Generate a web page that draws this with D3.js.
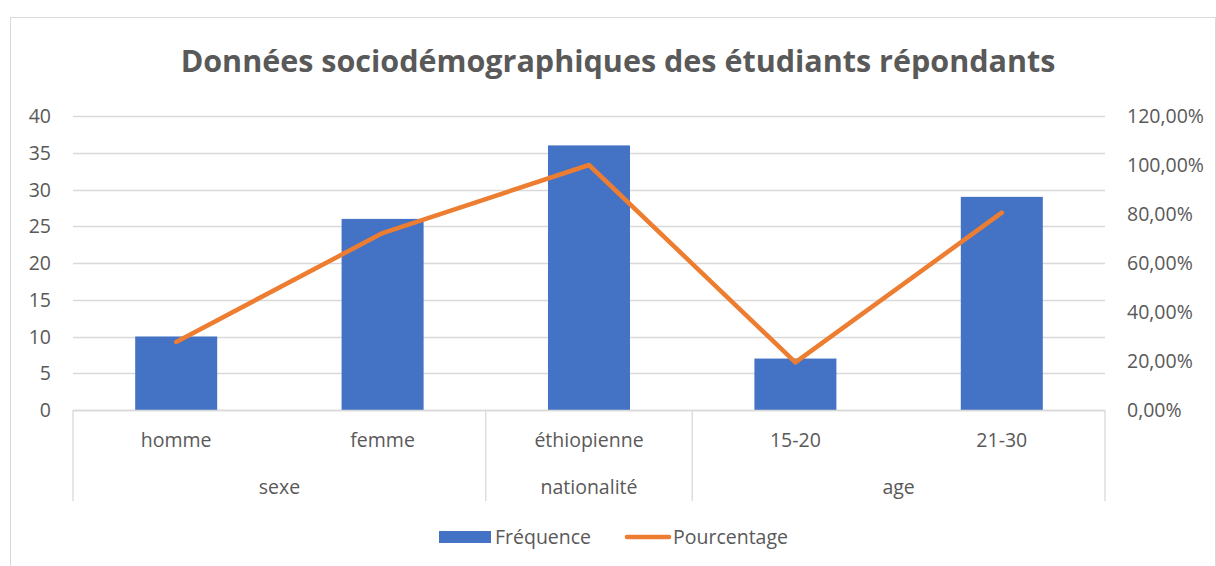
<!DOCTYPE html>
<html>
<head>
<meta charset="utf-8">
<script src="https://cdn.jsdelivr.net/npm/d3@7"></script>
<style>
  body { margin: 0; background: #fff; }
  svg text { font-family: "Open Sans", sans-serif; fill: #595959; }
</style>
</head>
<body>
<svg width="1216" height="566"></svg>
<script>
var categories = ["homme", "femme", "éthiopienne", "15-20", "21-30"];
var groups = [
  { name: "sexe", from: 0, to: 1 },
  { name: "nationalité", from: 2, to: 2 },
  { name: "age", from: 3, to: 4 }
];
var frequence = [10, 26, 36, 7, 29];
var pourcentage = [0.2778, 0.7222, 1.0, 0.1944, 0.8056];
var leftTicks = [0, 5, 10, 15, 20, 25, 30, 35, 40];
var rightTicks = [0, 0.2, 0.4, 0.6, 0.8, 1.0, 1.2];

var svg = d3.select("svg"),
    width = +svg.attr("width"),
    height = +svg.attr("height");

var plotLeft = 73, plotRight = 1105, plotTop = 116, plotBottom = 410;
var fs = 19.5;

// chart border
svg.append("rect")
    .attr("x", 10.5).attr("y", 17.5)
    .attr("width", 1205).attr("height", 560)
    .attr("fill", "none").attr("stroke", "#d9d9d9");

svg.append("text")
    .attr("x", 618).attr("y", 72)
    .attr("text-anchor", "middle")
    .attr("font-size", 30.5).attr("font-weight", "bold")
    .text("Données sociodémographiques des étudiants répondants");

var xc = d3.scaleBand().domain(categories).range([plotLeft, plotRight]);
var y = d3.scaleLinear().domain([0, 40]).range([plotBottom, plotTop]);
var y2 = d3.scaleLinear().domain([0, 1.2]).range([plotBottom, plotTop]);

// gridlines
svg.append("g").selectAll("line")
    .data(leftTicks)
    .enter().append("line")
    .attr("x1", plotLeft).attr("x2", plotRight)
    .attr("y1", function(d) { return Math.round(y(d)) + 0.5; })
    .attr("y2", function(d) { return Math.round(y(d)) + 0.5; })
    .attr("stroke", "#d9d9d9").attr("stroke-width", 1.3);

var fmtPct = function(d) { return (d * 100).toFixed(2).replace(".", ",") + "%"; };

svg.append("g").selectAll("text")
    .data(leftTicks)
    .enter().append("text")
    .attr("x", 51).attr("y", function(d) { return y(d) + 7; })
    .attr("text-anchor", "end").attr("font-size", fs)
    .text(function(d) { return d; });

svg.append("g").selectAll("text")
    .data(rightTicks)
    .enter().append("text")
    .attr("x", 1127).attr("y", function(d) { return y2(d) + 7; })
    .attr("font-size", fs)
    .text(fmtPct);

// bars
svg.append("g").selectAll("rect")
    .data(frequence)
    .enter().append("rect")
    .attr("x", function(d, i) { return xc(categories[i]) + xc.bandwidth() / 2 - 41; })
    .attr("width", 82)
    .attr("y", function(d) { return y(d); })
    .attr("height", function(d) { return plotBottom - y(d); })
    .attr("fill", "#4472c4");

// line
var line = d3.line()
    .x(function(d, i) { return xc(categories[i]) + xc.bandwidth() / 2; })
    .y(function(d) { return y2(d); });

svg.append("path")
    .datum(pourcentage)
    .attr("d", line)
    .attr("fill", "none")
    .attr("stroke", "#ed7d31")
    .attr("stroke-width", 4.5)
    .attr("stroke-linejoin", "round")
    .attr("stroke-linecap", "round");

// category axis (two levels)
var ax = svg.append("g").attr("stroke", "#d9d9d9").attr("stroke-width", 1.3);
ax.append("line").attr("x1", plotLeft).attr("x2", plotRight)
    .attr("y1", plotBottom + 0.5).attr("y2", plotBottom + 0.5);
var dividers = [plotLeft, xc(categories[2]), xc(categories[3]), plotRight];
ax.selectAll(".div")
    .data(dividers)
    .enter().append("line")
    .attr("x1", function(d) { return d; }).attr("x2", function(d) { return d; })
    .attr("y1", plotBottom).attr("y2", 501);

svg.append("g").selectAll("text")
    .data(categories)
    .enter().append("text")
    .attr("x", function(d) { return xc(d) + xc.bandwidth() / 2; })
    .attr("y", 447)
    .attr("text-anchor", "middle").attr("font-size", fs)
    .text(function(d) { return d; });

svg.append("g").selectAll("text")
    .data(groups)
    .enter().append("text")
    .attr("x", function(d) { return (xc(categories[d.from]) + xc(categories[d.to]) + xc.bandwidth()) / 2; })
    .attr("y", 494)
    .attr("text-anchor", "middle").attr("font-size", fs)
    .text(function(d) { return d.name; });

// legend
var lg = svg.append("g");
lg.append("rect").attr("x", 439).attr("y", 531).attr("width", 52).attr("height", 12).attr("fill", "#4472c4");
lg.append("text").attr("x", 495).attr("y", 544).attr("font-size", fs).text("Fréquence");
lg.append("line").attr("x1", 627).attr("x2", 669).attr("y1", 537).attr("y2", 537)
    .attr("stroke", "#ed7d31").attr("stroke-width", 4.5).attr("stroke-linecap", "round");
lg.append("text").attr("x", 673).attr("y", 544).attr("font-size", fs).text("Pourcentage");
</script>
</body>
</html>
